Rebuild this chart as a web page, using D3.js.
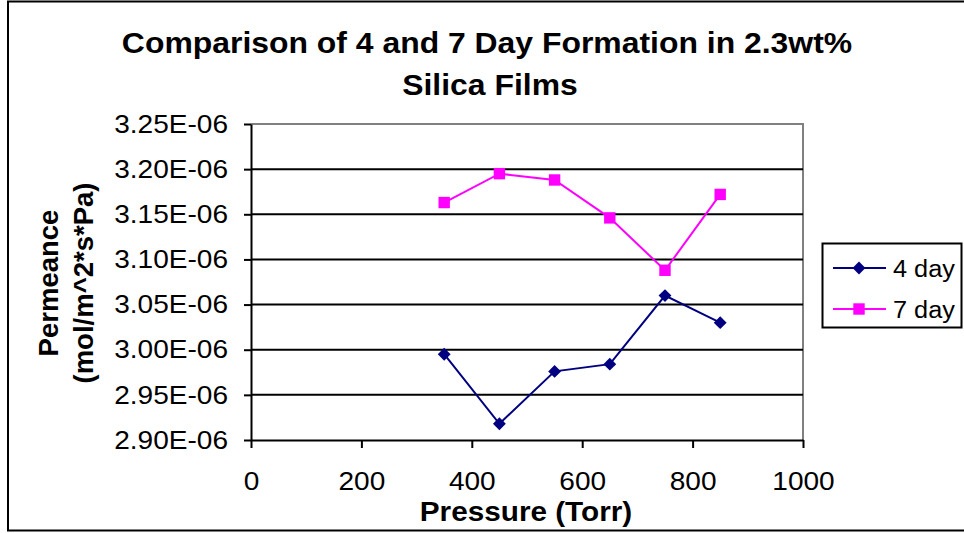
<!DOCTYPE html>
<html>
<head>
<meta charset="utf-8">
<script src="https://cdn.jsdelivr.net/npm/d3@7"></script>
<style>
  html, body { margin: 0; padding: 0; background: #fff; }
  svg { display: block; font-family: "Liberation Sans", Arial, sans-serif; }
</style>
</head>
<body>
<svg id="chart" width="964" height="533"></svg>
<script>
// Pressure (Torr) at which permeance was measured
const pressures = [350, 450, 550, 650, 750, 850];
// Permeance (mol/m^2*s*Pa), in units of 1E-06
const day4 = [2.995, 2.918, 2.976, 2.984, 3.060, 3.030];
const day7 = [3.163, 3.195, 3.188, 3.146, 3.088, 3.172];
const seriesNames = ["4 day", "7 day"];
const xTicks = [0, 200, 400, 600, 800, 1000];
const yTicks = [2.90, 2.95, 3.00, 3.05, 3.10, 3.15, 3.20, 3.25];

const svg = d3.select("#chart");
const plot = { left: 251, right: 803, top: 124, bottom: 440 };
const WIDEN = 1.1; // horizontal widening of the chart lettering

// widen each text element horizontally about its anchor
function widen(sel) {
  sel.each(function () {
    const len = this.getComputedTextLength();
    d3.select(this).attr("textLength", len * WIDEN).attr("lengthAdjust", "spacingAndGlyphs");
  });
}

const x = d3.scaleLinear().domain([0, 1000]).range([plot.left, plot.right]);
const y = d3.scaleLinear().domain([2.90, 3.25]).range([plot.bottom, plot.top]);

// outer chart frame
svg.append("rect")
  .attr("x", 8).attr("y", 1.5).attr("width", 970).attr("height", 529)
  .attr("fill", "none").attr("stroke", "#000").attr("stroke-width", 2);

// title
svg.append("text")
  .attr("x", 487).attr("y", 53)
  .attr("text-anchor", "middle")
  .attr("font-weight", "bold").attr("font-size", 29)
  .text("Comparison of 4 and 7 Day Formation in 2.3wt%")
  .call(widen);
svg.append("text")
  .attr("x", 490).attr("y", 95)
  .attr("text-anchor", "middle")
  .attr("font-weight", "bold").attr("font-size", 29)
  .text("Silica Films")
  .call(widen);

// plot area border: grey top and right
svg.append("path")
  .attr("d", `M${plot.left},${plot.top}H${plot.right}V${plot.bottom}`)
  .attr("fill", "none").attr("stroke", "#808080").attr("stroke-width", 2);

// horizontal gridlines
svg.append("g")
  .selectAll("line")
  .data(yTicks.filter(t => t > 2.90 && t < 3.25))
  .join("line")
  .attr("x1", plot.left).attr("x2", plot.right)
  .attr("y1", d => y(d)).attr("y2", d => y(d))
  .attr("stroke", "#000").attr("stroke-width", 2);

// y axis
const yAxis = d3.axisLeft(y)
  .tickValues(yTicks)
  .tickFormat(d => d.toFixed(2) + "E-06")
  .tickSizeInner(7).tickSizeOuter(0).tickPadding(16);
const gy = svg.append("g").attr("transform", `translate(${plot.left},0)`).call(yAxis);
gy.select(".domain").attr("stroke", "#000").attr("stroke-width", 2);
gy.selectAll(".tick line").attr("stroke", "#000").attr("stroke-width", 2);
gy.selectAll(".tick text").attr("font-size", 25.5).attr("fill", "#000")
  .attr("font-family", "Liberation Sans, Arial, sans-serif")
  .call(widen);

// x axis
const xAxis = d3.axisBottom(x)
  .tickValues(xTicks)
  .tickFormat(d3.format("d"))
  .tickSizeInner(8).tickSizeOuter(0).tickPadding(24);
const gx = svg.append("g").attr("transform", `translate(0,${plot.bottom})`).call(xAxis);
gx.select(".domain").attr("stroke", "#000").attr("stroke-width", 2);
gx.selectAll(".tick line").attr("stroke", "#000").attr("stroke-width", 2);
gx.selectAll(".tick text").attr("font-size", 25.5).attr("fill", "#000")
  .attr("font-family", "Liberation Sans, Arial, sans-serif")
  .call(widen);

// axis titles
svg.append("text")
  .attr("x", 526).attr("y", 521)
  .attr("text-anchor", "middle")
  .attr("font-weight", "bold").attr("font-size", 27)
  .text("Pressure (Torr)")
  .call(widen);

const yTitle = svg.append("g").attr("transform", "translate(0,283) rotate(-90)");
yTitle.append("text")
  .attr("x", 0).attr("y", 58)
  .attr("text-anchor", "middle")
  .attr("font-weight", "bold").attr("font-size", 27.5)
  .text("Permeance");
yTitle.append("text")
  .attr("x", 0).attr("y", 93)
  .attr("text-anchor", "middle")
  .attr("font-weight", "bold").attr("font-size", 27.5)
  .text("(mol/m^2*s*Pa)");

// series
const series = [
  { name: seriesNames[0], values: day4, color: "#000080", marker: "diamond" },
  { name: seriesNames[1], values: day7, color: "#FF00FF", marker: "square" }
];

const line = d3.line().x(d => x(d[0])).y(d => y(d[1]));
const markerPath = {
  diamond: d3.symbol().type(d3.symbolDiamond2).size(105),
  square: d3.symbol().type(d3.symbolSquare).size(130)
};

series.forEach(s => {
  const pts = pressures.map((p, i) => [p, s.values[i]]);
  svg.append("path")
    .datum(pts)
    .attr("d", line)
    .attr("fill", "none").attr("stroke", s.color).attr("stroke-width", 2);
  svg.append("g")
    .selectAll("path")
    .data(pts)
    .join("path")
    .attr("transform", d => `translate(${x(d[0])},${y(d[1])})`)
    .attr("d", markerPath[s.marker]())
    .attr("fill", s.color);
});

// legend
const legend = svg.append("g");
legend.append("rect")
  .attr("x", 822.5).attr("y", 243.5).attr("width", 139).attr("height", 84)
  .attr("fill", "#fff").attr("stroke", "#000").attr("stroke-width", 2);
series.forEach((s, i) => {
  const ly = 268 + i * 41;
  legend.append("line")
    .attr("x1", 833).attr("x2", 886).attr("y1", ly).attr("y2", ly)
    .attr("stroke", s.color).attr("stroke-width", 2);
  legend.append("path")
    .attr("transform", `translate(859,${ly})`)
    .attr("d", markerPath[s.marker]())
    .attr("fill", s.color);
  legend.append("text")
    .attr("x", 893).attr("y", ly + 8.5)
    .attr("font-size", 23)
    .text(s.name)
    .call(widen);
});
</script>
</body>
</html>
